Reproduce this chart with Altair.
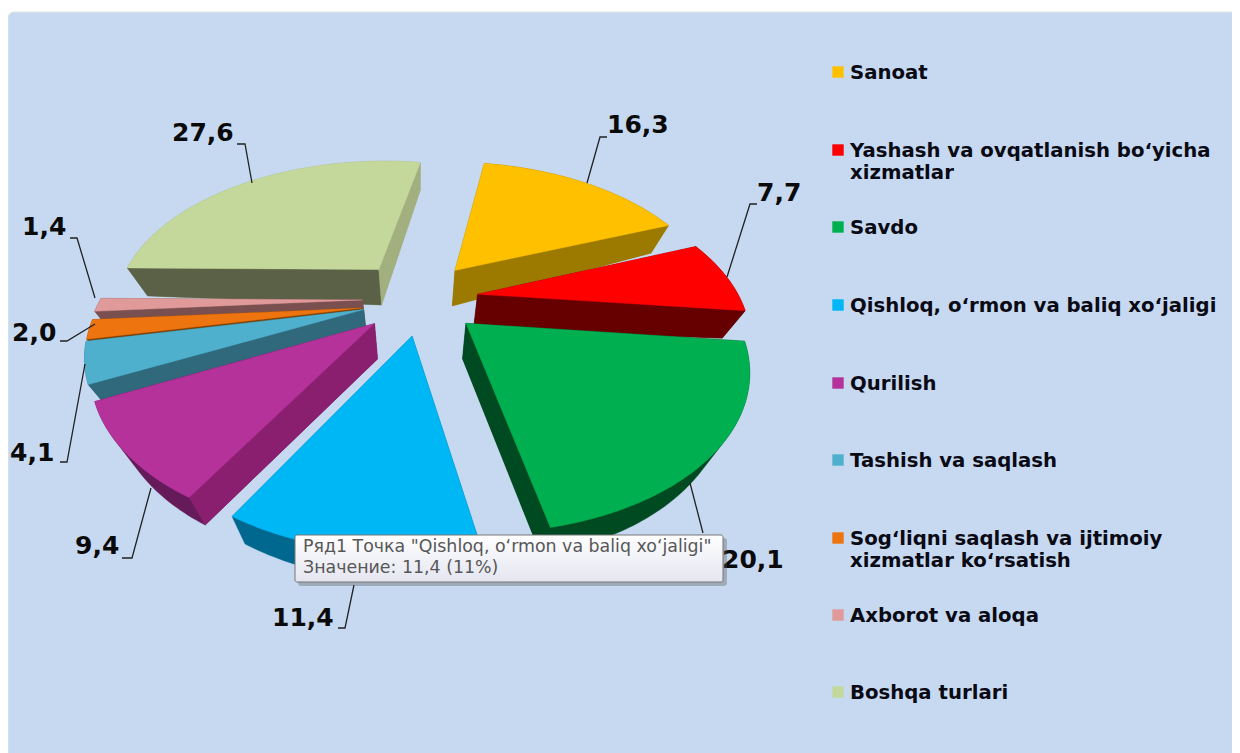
import math
import altair as alt
import pandas as pd

# ---- chart values
NAMES = ["Sanoat", "Yashash va ovqatlanish bo‘yicha xizmatlar", "Savdo",
         "Qishloq, o‘rmon va baliq xo‘jaligi", "Qurilish", "Tashish va saqlash",
         "Sog‘liqni saqlash va ijtimoiy xizmatlar ko‘rsatish", "Axborot va aloqa", "Boshqa turlari"]
VALUES = [16.3, 7.7, 20.1, 11.4, 9.4, 4.1, 2.0, 1.4, 27.6]

# ---- styles
TOP = ["#FFC000", "#FF0000", "#00B050", "#00B7F5", "#B5329A", "#4FB0CE", "#EE7410", "#E09A9A", "#C5D89C"]
WALL_START = ["#A58000", "#660000", "#004A22", "#006E96", "#8A1F70", "#30697C", "#7F3F00", "#7A4F50", "#5A6146"]
WALL_END = ["#9C7A00", "#660000", "#004A22", "#006E96", "#8A1F70", "#30697C", "#7F3F00", "#7A4F50", "#A2AF7E"]
WALL_RIM = ["#9C7A00", "#660000", "#004A22", "#00688E", "#651A59", "#30697C", "#7F3F00", "#7A4F50", "#A2AF7E"]
BG = "#C6D9F1"

# ---- layout of the tilted, exploded pie
W, H = 1224, 745
CX, CY, RX, RY = 418, 298, 262, 145
PERSP, EXPLODE, START = 0.25, 0.2, 10
DEPTH, DEPTH_EDGE, CONVERGE = 37, 8, 0.07
NUDGE = [(5, -6), (8, 0), (8, 5), (3, 8), (-4, 5), (-4, 2), (-4, 6), (-3, 1), (-7, -7)]


def project(x, z, nudge):
    s = 1 / (1 + PERSP * z)
    return CX + RX * x * s + nudge[0], CY - RY * z * s + nudge[1], math.hypot(x, z)


def down(p):
    return (p[0] - CONVERGE * (p[0] - CX), p[1] + DEPTH - DEPTH_EDGE * p[2])


def hull(points):
    pts = sorted(set(points))
    def half(seq):
        out = []
        for p in seq:
            while len(out) > 1 and (out[-1][0] - out[-2][0]) * (p[1] - out[-2][1]) - (out[-1][1] - out[-2][1]) * (p[0] - out[-2][0]) <= 0:
                out.pop()
            out.append(p)
        return out[:-1]
    return half(pts) + half(pts[::-1])


def feature(ring, color, order):
    ring = [[round(x - 8, 2), round(y - 8, 2)] for x, y in ring]
    ring.append(ring[0])
    return {"type": "Feature", "properties": {"color": color, "order": order},
            "geometry": {"type": "Polygon", "coordinates": [ring]}}


total = sum(VALUES)
slices = []
cum = START
for i, v in enumerate(VALUES):
    a0, a1 = cum, cum + 360 * v / total
    cum = a1
    mid = math.radians((a0 + a1) / 2)
    ex, ez = EXPLODE * math.sin(mid), EXPLODE * math.cos(mid)
    n = max(4, int(a1 - a0))
    arc = []
    for k in range(n + 1):
        a = math.radians(a0 + (a1 - a0) * k / n)
        arc.append(project(ex + math.sin(a), ez + math.cos(a), NUDGE[i]))
    apex = project(ex, ez, NUDGE[i])
    slices.append((math.cos(mid), i, apex, arc))

features = []
for _, i, apex, arc in sorted(slices, key=lambda t: -t[0]):
    top = [apex[:2]] + [p[:2] for p in arc]
    cx = sum(p[0] for p in top) / len(top)
    cy = sum(p[1] for p in top) / len(top)
    # the whole prism in its rim colour
    prism = hull(top + [down(p) for p in [apex] + arc])
    features.append(feature(prism, WALL_RIM[i], len(features)))
    # the two radial walls, only where they face the viewer
    for edge, col in ((arc[0], WALL_START[i]), (arc[-1], WALL_END[i])):
        dx, dy = edge[0] - apex[0], edge[1] - apex[1]
        nx, ny = dy, -dx
        if (cx - apex[0]) * nx + (cy - apex[1]) * ny > 0:
            nx, ny = -nx, -ny
        if ny > 0:
            features.append(feature([apex[:2], edge[:2], down(edge), down(apex)], col, len(features)))
    features.append(feature(top, TOP[i], len(features)))

xs = alt.X("x:Q", scale=alt.Scale(domain=[8, 8 + W]), axis=None)
ys = alt.Y("y:Q", scale=alt.Scale(domain=[8 + H, 8]), axis=None)
x2 = alt.X2("x2:Q")
y2 = alt.Y2("y2:Q")

panel = alt.Chart(pd.DataFrame([{"x": 8, "x2": 1260, "y": 12, "y2": 770}])).mark_rect(
    fill=BG, cornerRadius=6, stroke="#DCE8DC", strokeWidth=1, clip=True).encode(x=xs, x2=x2, y=ys, y2=y2)

pie = alt.Chart(alt.Data(values=features)).mark_geoshape(strokeWidth=0.4).encode(
    fill=alt.Fill("properties.color:N", scale=None),
    stroke=alt.Stroke("properties.color:N", scale=None),
    order=alt.Order("properties.order:Q"),
).project(type="identity", scale=1, translate=[0, 0])

# ---- value labels and their leader lines (layout, by slice)
LABEL_X = [607, 757, 722, 272, 75, 10, 12, 22, 172]
LABEL_Y = [125, 193, 560, 618, 546, 453, 333, 227, 133]
LEADERS = [
    [(607, 137), (600, 137), (587, 183)],
    [(757, 204), (750, 204), (727, 277)],
    [(690, 483), (703, 533)],
    [(338, 628), (345, 628), (354, 585)],
    [(122, 558), (132, 558), (151, 488)],
    [(60, 462), (67, 462), (85, 364)],
    [(60, 341), (67, 341), (95, 324)],
    [(70, 238), (77, 238), (95, 298)],
    [(237, 144), (245, 144), (252, 183)],
]
leader_rows = [{"s": i, "k": k, "x": p[0], "y": p[1]} for i, pts in enumerate(LEADERS) for k, p in enumerate(pts)]
leaders = alt.Chart(pd.DataFrame(leader_rows)).mark_line(color="#222222", strokeWidth=1.3).encode(
    x=xs, y=ys, detail="s:N", order="k:Q")

label_df = pd.DataFrame({"x": LABEL_X, "y": LABEL_Y, "t": [f"{v:.1f}".replace(".", ",") for v in VALUES]})
labels = alt.Chart(label_df).mark_text(font="DejaVu Sans", fontWeight="bold", fontSize=25, align="left",
                                       baseline="middle", color="#0A0A0A").encode(x=xs, y=ys, text="t:N")

# ---- legend (layout, by row)
SWATCH_Y = [72, 150, 227, 305, 383, 460, 538, 615, 692]
LEGEND_LINES = [["Sanoat"], ["Yashash va ovqatlanish bo‘yicha", "xizmatlar"], ["Savdo"],
                ["Qishloq, o‘rmon va baliq xo‘jaligi"], ["Qurilish"], ["Tashish va saqlash"],
                ["Sog‘liqni saqlash va ijtimoiy", "xizmatlar ko‘rsatish"], ["Axborot va aloqa"], ["Boshqa turlari"]]
swatches = alt.Chart(pd.DataFrame({"x": [838] * 9, "y": SWATCH_Y, "c": TOP})).mark_square(
    size=130, opacity=1, filled=True).encode(x=xs, y=ys, fill=alt.Fill("c:N", scale=None))
legend_rows = []
for yy, lines in zip(SWATCH_Y, LEGEND_LINES):
    for k, line in enumerate(lines):
        legend_rows.append({"x": 850, "y": yy + 1 + 22 * k, "t": line})
legend = alt.Chart(pd.DataFrame(legend_rows)).mark_text(font="DejaVu Sans", fontWeight="bold", fontSize=19.7,
                                                        align="left", baseline="middle", color="#0A0A14").encode(
    x=xs, y=ys, text="t:N")

# ---- hover box shown on the blue slice
TIP_LINES = [f'Ряд1 Точка "{NAMES[3]}"', f"Значение: {VALUES[3]:.1f}".replace(".", ",") + f" ({VALUES[3]:.0f}%)"]
shadow = alt.Chart(pd.DataFrame([{"x": 298, "x2": 727, "y": 538, "y2": 586}])).mark_rect(
    fill="#555555", opacity=0.35, cornerRadius=3).encode(x=xs, x2=x2, y=ys, y2=y2)
box = alt.Chart(pd.DataFrame([{"x": 295, "x2": 723, "y": 535, "y2": 582}])).mark_rect(
    fill=alt.Gradient(gradient="linear", x1=0, y1=0, x2=0, y2=1,
                      stops=[alt.GradientStop(offset=0, color="#FFFFFF"), alt.GradientStop(offset=1, color="#E4E5F0")]),
    stroke="#767676", strokeWidth=1, cornerRadius=2).encode(x=xs, x2=x2, y=ys, y2=y2)
tip = alt.Chart(pd.DataFrame({"x": [303, 303], "y": [547, 568], "t": TIP_LINES})).mark_text(
    font="DejaVu Sans", fontSize=17.4, align="left", baseline="middle", color="#575757").encode(x=xs, y=ys, text="t:N")

chart = alt.layer(panel, pie, leaders, labels, swatches, legend, shadow, box, tip).properties(
    width=W, height=H, padding=0, background="#FFFFFF",
    autosize=alt.AutoSizeParams(type="none", contains="content")
).configure_view(stroke=None)

chart.save("out.html", embed_options={"renderer": "svg", "actions": False})
